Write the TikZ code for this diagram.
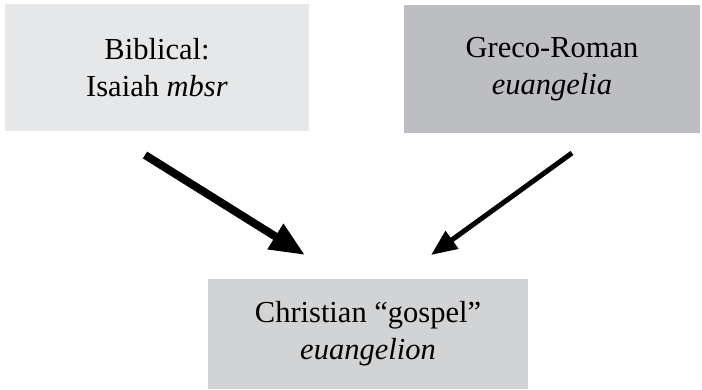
\documentclass[tikz,border=0pt]{standalone}
\usepackage{fontspec}
\setmainfont{Liberation Serif}
\usetikzlibrary{arrows.meta}
\definecolor{boxA}{HTML}{E6E7E9}
\definecolor{boxB}{HTML}{BDBEC1}
\definecolor{boxC}{HTML}{D2D3D5}
\begin{document}
\begin{tikzpicture}[x=1pt,y=-1pt,
  box/.style={rectangle, inner sep=0pt, align=center,
    font=\fontsize{30.5}{37}\selectfont},
  bigarrow/.style={line width=8pt, -{Triangle[length=35pt,width=28pt]}},
  smallarrow/.style={line width=5pt, -{Triangle[length=26pt,width=21pt]}}]
\useasboundingbox (0,0) rectangle (702,390);
\node[box, fill=boxA, minimum width=304pt, minimum height=127pt] (bib) at (157,67.5) {Biblical:\\Isaiah \textit{mbsr}};
\node[box, fill=boxB, minimum width=296pt, minimum height=128pt] (gr) at (552,69) {Greco-Roman\\\textit{euangelia}};
\node[box, fill=boxC, minimum width=320pt, minimum height=110pt] (chr) at (368,334) {Christian “gospel”\\\textit{euangelion}};
\coordinate (s1) at (145,155);
\coordinate (e1) at (305,255);
\coordinate (s2) at (572,153);
\coordinate (e2) at (431,255);
\draw[bigarrow] (s1) -- (e1);
\draw[smallarrow] (s2) -- (e2);
\end{tikzpicture}
\end{document}
